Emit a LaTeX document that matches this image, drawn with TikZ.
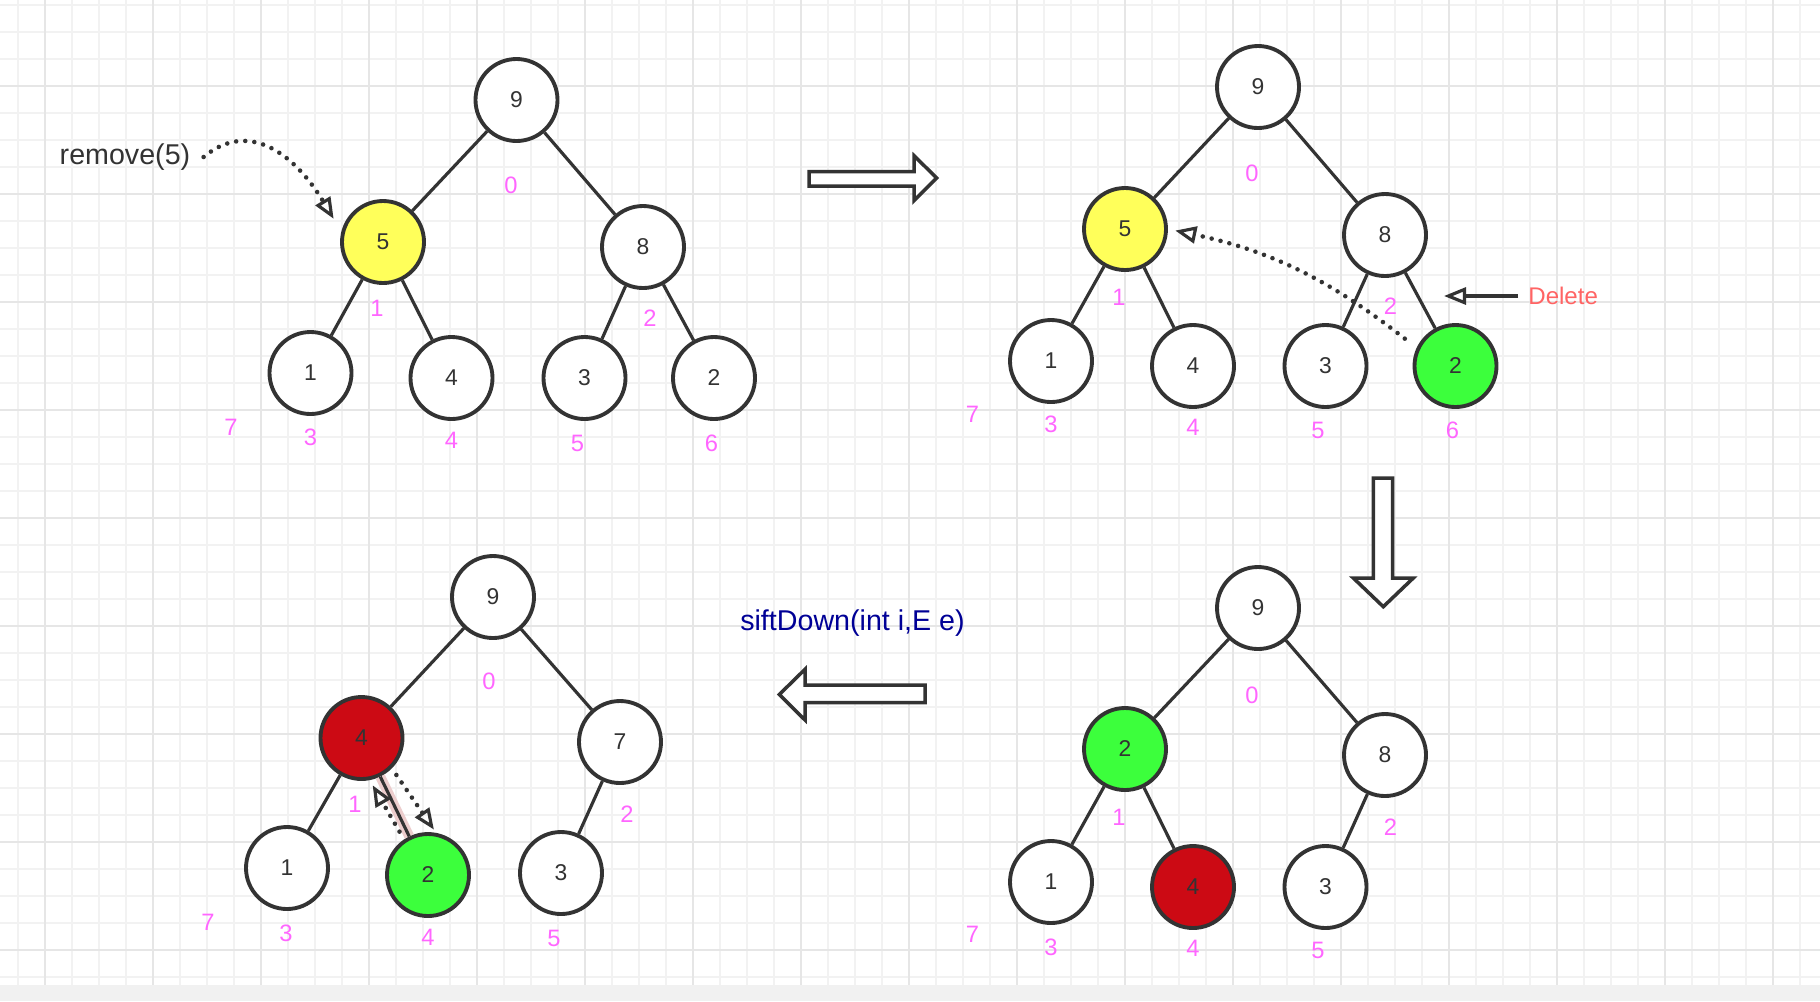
\documentclass[tikz,border=0pt]{standalone}
\usepackage{fontspec}
\setmainfont{Liberation Sans}
\usetikzlibrary{arrows.meta,calc}

\definecolor{gridminor}{RGB}{242,242,242}
\definecolor{gridmajor}{RGB}{230,230,230}
\definecolor{bandgray}{RGB}{241,241,241}
\definecolor{inkgray}{RGB}{51,51,51}
\definecolor{removeyellow}{RGB}{255,255,90}
\definecolor{lastgreen}{RGB}{60,255,60}
\definecolor{sinkred}{RGB}{204,10,20}
\definecolor{indexpink}{RGB}{255,102,255}
\definecolor{callblue}{RGB}{0,0,150}
\definecolor{deletered}{RGB}{255,100,100}
\definecolor{glowpink}{RGB}{236,205,205}

\begin{document}
\begin{tikzpicture}[
    heap node/.style={circle, draw=inkgray, line width=2.2pt, fill=#1, minimum size=1.64cm, inner sep=0pt, text=inkgray, font=\fontsize{13}{15}\selectfont},
    plain node/.style={heap node=white},
    target node/.style={heap node=removeyellow},
    last node/.style={heap node=lastgreen},
    sink node/.style={heap node=sinkred},
    tree edge/.style={-, line width=1.8pt, inkgray},
    swap glow/.style={-, line width=0.2cm, glowpink},
    index label/.style={text=indexpink, font=\fontsize{13.5}{16}\selectfont, inner sep=0pt},
    call label/.style={font=\fontsize{16.3}{19}\selectfont, inner sep=0pt},
    dotted arrow/.style={line width=2.6pt, inkgray, dash pattern=on 0pt off 5.2pt, line cap=round, -{Triangle[open, length=0.42cm, width=0.34cm, line width=1.8pt]}},
    pointer/.style={line width=1.8pt, inkgray, -{Triangle[open, length=0.44cm, width=0.34cm, line width=1.8pt]}},
    block arrow/.style={draw=inkgray, line width=2pt, fill=white, line join=miter},
    grid minor/.style={line width=0.6pt, gridminor},
    grid major/.style={line width=1pt, gridmajor}
]

% Background grid
\useasboundingbox (0,0) rectangle (36.4,-20.02);
\fill[white] (0,0) rectangle (36.4,-20.02);
\foreach \i in {0,...,66}
    \draw[grid minor] ({0.36+0.54*\i},0) -- ({0.36+0.54*\i},-19.7);
\foreach \j in {0,...,36}
    \draw[grid minor] (0,{-0.1-0.54*\j}) -- (36.4,{-0.1-0.54*\j});
\foreach \i in {0,...,16}
    \draw[grid major] ({0.9+2.16*\i},0) -- ({0.9+2.16*\i},-19.7);
\foreach \j in {0,...,8}
    \draw[grid major] (0,{-1.72-2.16*\j}) -- (36.4,{-1.72-2.16*\j});
\fill[bandgray] (0,-19.7) rectangle (36.4,-20.02);

% Heap before remove
\node[plain node] (A0) at (10.33,-2.0) {9};
\node[target node] (A1) at (7.66,-4.84) {5};
\node[plain node] (A2) at (12.86,-4.94) {8};
\node[plain node] (A3) at (6.21,-7.46) {1};
\node[plain node] (A4) at (9.03,-7.56) {4};
\node[plain node] (A5) at (11.69,-7.56) {3};
\node[plain node] (A6) at (14.28,-7.56) {2};
\draw[tree edge] (A0) -- (A1);
\draw[tree edge] (A0) -- (A2);
\draw[tree edge] (A1) -- (A3);
\draw[tree edge] (A1) -- (A4);
\draw[tree edge] (A2) -- (A5);
\draw[tree edge] (A2) -- (A6);

\node[index label] (A0idx) at (10.22,-3.70) {0};
\node[index label] (A1idx) at (7.54,-6.16) {1};
\node[index label] (A2idx) at (13.0,-6.36) {2};
\node[index label] (A3idx) at (6.21,-8.74) {3};
\node[index label] (A4idx) at (9.03,-8.80) {4};
\node[index label] (A5idx) at (11.55,-8.86) {5};
\node[index label] (A6idx) at (14.23,-8.86) {6};
\node[index label] (A7idx) at (4.62,-8.54) {7};

\node[call label, text=inkgray] (removeCall) at (2.5,-3.14) {remove(5)};
\draw[dotted arrow, shorten >=0.3cm] ([xshift=0.26cm]removeCall.east) .. controls +(40:1.26) and +(121:1.67) .. (A1.166);

% Arrow to step 2
\draw[block arrow] (16.18,-3.434) -- (18.28,-3.434) -- (18.28,-3.114) -- (18.734,-3.56) -- (18.28,-4.014) -- (18.28,-3.72) -- (16.18,-3.72) -- cycle;

% Last element takes its place
\node[plain node] (B0) at (25.16,-1.74) {9};
\node[target node] (B1) at (22.5,-4.58) {5};
\node[plain node] (B2) at (27.7,-4.70) {8};
\node[plain node] (B3) at (21.02,-7.22) {1};
\node[plain node] (B4) at (23.86,-7.32) {4};
\node[plain node] (B5) at (26.51,-7.32) {3};
\node[last node] (B6) at (29.11,-7.32) {2};
\draw[tree edge] (B0) -- (B1);
\draw[tree edge] (B0) -- (B2);
\draw[tree edge] (B1) -- (B3);
\draw[tree edge] (B1) -- (B4);
\draw[tree edge] (B2) -- (B5);
\draw[tree edge] (B2) -- (B6);

\node[index label] (B0idx) at (25.04,-3.46) {0};
\node[index label] (B1idx) at (22.38,-5.94) {1};
\node[index label] (B2idx) at (27.81,-6.12) {2};
\node[index label] (B3idx) at (21.02,-8.48) {3};
\node[index label] (B4idx) at (23.86,-8.54) {4};
\node[index label] (B5idx) at (26.36,-8.60) {5};
\node[index label] (B6idx) at (29.05,-8.60) {6};
\node[index label] (B7idx) at (19.45,-8.28) {7};

\draw[dotted arrow, shorten <=0.3cm, shorten >=0.15cm] (B6.155) to[out=142, in=-12] (B1.east);

\node[anchor=west, inner sep=0pt, text=deletered, font=\fontsize{13.7}{16}\selectfont] (deleteNote) at (30.56,-5.92) {Delete};
\coordinate (deleteTip) at (28.88,-5.92);
\draw[pointer] ([xshift=-0.2cm]deleteNote.west) -- (deleteTip);

% Arrow to step 3
\draw[block arrow] (27.466,-9.56) -- (27.854,-9.56) -- (27.854,-11.56) -- (28.266,-11.56) -- (27.666,-12.134) -- (27.066,-11.56) -- (27.466,-11.56) -- cycle;

% After replacing
\node[plain node] (C0) at (25.16,-12.16) {9};
\node[last node] (C1) at (22.5,-14.98) {2};
\node[plain node] (C2) at (27.7,-15.10) {8};
\node[plain node] (C3) at (21.02,-17.64) {1};
\node[sink node] (C4) at (23.86,-17.74) {4};
\node[plain node] (C5) at (26.51,-17.74) {3};
\draw[tree edge] (C0) -- (C1);
\draw[tree edge] (C0) -- (C2);
\draw[tree edge] (C1) -- (C3);
\draw[tree edge] (C1) -- (C4);
\draw[tree edge] (C2) -- (C5);

\node[index label] (C0idx) at (25.04,-13.9) {0};
\node[index label] (C1idx) at (22.38,-16.34) {1};
\node[index label] (C2idx) at (27.81,-16.54) {2};
\node[index label] (C3idx) at (21.02,-18.94) {3};
\node[index label] (C4idx) at (23.86,-18.96) {4};
\node[index label] (C5idx) at (26.36,-19.0) {5};
\node[index label] (C7idx) at (19.45,-18.68) {7};

% Arrow to step 4
\node[call label, text=callblue] (siftCall) at (17.05,-12.46) {siftDown(int i,E e)};
\draw[block arrow] (18.5,-13.7) -- (16.1,-13.7) -- (16.1,-13.386) -- (15.586,-13.89) -- (16.1,-14.4) -- (16.1,-14.054) -- (18.5,-14.054) -- cycle;

% After sift down
\node[plain node] (D0) at (9.86,-11.94) {9};
\node[sink node] (D1) at (7.23,-14.76) {4};
\node[plain node] (D2) at (12.4,-14.84) {7};
\node[plain node] (D3) at (5.74,-17.36) {1};
\node[last node] (D4) at (8.56,-17.5) {2};
\node[plain node] (D5) at (11.22,-17.46) {3};
\draw[tree edge] (D0) -- (D1);
\draw[tree edge] (D0) -- (D2);
\draw[tree edge] (D1) -- (D3);
\draw[swap glow] (D1) -- (D4);
\draw[tree edge] (D1) -- (D4);
\draw[tree edge] (D2) -- (D5);

\node[index label] (D0idx) at (9.78,-13.62) {0};
\node[index label] (D1idx) at (7.10,-16.08) {1};
\node[index label] (D2idx) at (12.54,-16.28) {2};
\node[index label] (D3idx) at (5.72,-18.66) {3};
\node[index label] (D4idx) at (8.56,-18.74) {4};
\node[index label] (D5idx) at (11.08,-18.76) {5};
\node[index label] (D7idx) at (4.16,-18.44) {7};

\draw[dotted arrow, shorten <=0.18cm, shorten >=0.12cm] (D4.124) -- (D1.-79);
\draw[dotted arrow, shorten <=0.16cm, shorten >=0.08cm] (D1.-45) -- (D4.79);

\end{tikzpicture}
\end{document}
